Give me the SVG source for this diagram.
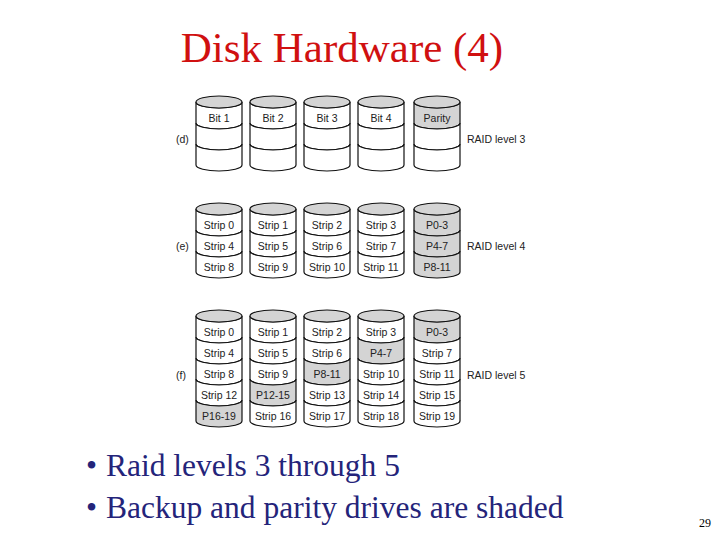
<svg xmlns="http://www.w3.org/2000/svg" xmlns:xlink="http://www.w3.org/1999/xlink" width="720" height="540" viewBox="0 0 720 540">
<style>
.b{fill:#fff;stroke:#111;stroke-width:1.2}
.s{fill:#d4d4d4;stroke:#111;stroke-width:1.2}
.t{font-family:"Liberation Sans",Arial,sans-serif;font-size:10.5px;fill:#222;text-anchor:middle}
.l{font-family:"Liberation Sans",Arial,sans-serif;font-size:10.5px;fill:#222}
.h{font-family:"Liberation Serif","Times New Roman",serif;fill:#24247a;font-size:31.5px}
</style>
<defs>
<path id="band" d="M-23,0 A23,6 0 0 0 23,0 V21 A23,6 0 0 1 -23,21 Z"/>
<ellipse id="top" cx="0" cy="0" rx="23" ry="6"/>
</defs>
<rect width="720" height="540" fill="#fff"/>
<text x="342" y="62" text-anchor="middle" font-family="Liberation Serif,'Times New Roman',serif" font-size="43" fill="#d01010">Disk Hardware (4)</text>

<g id="raid3">
<text class="l" x="176" y="143">(d)</text>
<text class="l" x="467" y="143">RAID level 3</text>
<g transform="translate(219,102)"><use href="#band" class="b" y="0"/><use href="#band" class="b" y="21"/><use href="#band" class="b" y="42"/><use href="#top" class="s"/><text class="t" y="20">Bit 1</text></g>
<g transform="translate(273,102)"><use href="#band" class="b" y="0"/><use href="#band" class="b" y="21"/><use href="#band" class="b" y="42"/><use href="#top" class="s"/><text class="t" y="20">Bit 2</text></g>
<g transform="translate(327,102)"><use href="#band" class="b" y="0"/><use href="#band" class="b" y="21"/><use href="#band" class="b" y="42"/><use href="#top" class="s"/><text class="t" y="20">Bit 3</text></g>
<g transform="translate(381,102)"><use href="#band" class="b" y="0"/><use href="#band" class="b" y="21"/><use href="#band" class="b" y="42"/><use href="#top" class="s"/><text class="t" y="20">Bit 4</text></g>
<g transform="translate(437,102)"><use href="#band" class="s" y="0"/><use href="#band" class="b" y="21"/><use href="#band" class="b" y="42"/><use href="#top" class="s"/><text class="t" y="20">Parity</text></g>
</g>

<g id="raid4">
<text class="l" x="176" y="250">(e)</text>
<text class="l" x="467" y="250">RAID level 4</text>
<g transform="translate(219,209)"><use href="#band" class="b" y="0"/><use href="#band" class="b" y="21"/><use href="#band" class="b" y="42"/><use href="#top" class="s"/><text class="t" y="20">Strip 0</text><text class="t" y="41">Strip 4</text><text class="t" y="62">Strip 8</text></g>
<g transform="translate(273,209)"><use href="#band" class="b" y="0"/><use href="#band" class="b" y="21"/><use href="#band" class="b" y="42"/><use href="#top" class="s"/><text class="t" y="20">Strip 1</text><text class="t" y="41">Strip 5</text><text class="t" y="62">Strip 9</text></g>
<g transform="translate(327,209)"><use href="#band" class="b" y="0"/><use href="#band" class="b" y="21"/><use href="#band" class="b" y="42"/><use href="#top" class="s"/><text class="t" y="20">Strip 2</text><text class="t" y="41">Strip 6</text><text class="t" y="62">Strip 10</text></g>
<g transform="translate(381,209)"><use href="#band" class="b" y="0"/><use href="#band" class="b" y="21"/><use href="#band" class="b" y="42"/><use href="#top" class="s"/><text class="t" y="20">Strip 3</text><text class="t" y="41">Strip 7</text><text class="t" y="62">Strip 11</text></g>
<g transform="translate(437,209)"><use href="#band" class="s" y="0"/><use href="#band" class="s" y="21"/><use href="#band" class="s" y="42"/><use href="#top" class="s"/><text class="t" y="20">P0-3</text><text class="t" y="41">P4-7</text><text class="t" y="62">P8-11</text></g>
</g>

<g id="raid5">
<text class="l" x="176" y="379">(f)</text>
<text class="l" x="467" y="379">RAID level 5</text>
<g transform="translate(219,316)"><use href="#band" class="b" y="0"/><use href="#band" class="b" y="21"/><use href="#band" class="b" y="42"/><use href="#band" class="b" y="63"/><use href="#band" class="s" y="84"/><use href="#top" class="s"/><text class="t" y="20">Strip 0</text><text class="t" y="41">Strip 4</text><text class="t" y="62">Strip 8</text><text class="t" y="83">Strip 12</text><text class="t" y="104">P16-19</text></g>
<g transform="translate(273,316)"><use href="#band" class="b" y="0"/><use href="#band" class="b" y="21"/><use href="#band" class="b" y="42"/><use href="#band" class="s" y="63"/><use href="#band" class="b" y="84"/><use href="#top" class="s"/><text class="t" y="20">Strip 1</text><text class="t" y="41">Strip 5</text><text class="t" y="62">Strip 9</text><text class="t" y="83">P12-15</text><text class="t" y="104">Strip 16</text></g>
<g transform="translate(327,316)"><use href="#band" class="b" y="0"/><use href="#band" class="b" y="21"/><use href="#band" class="s" y="42"/><use href="#band" class="b" y="63"/><use href="#band" class="b" y="84"/><use href="#top" class="s"/><text class="t" y="20">Strip 2</text><text class="t" y="41">Strip 6</text><text class="t" y="62">P8-11</text><text class="t" y="83">Strip 13</text><text class="t" y="104">Strip 17</text></g>
<g transform="translate(381,316)"><use href="#band" class="b" y="0"/><use href="#band" class="s" y="21"/><use href="#band" class="b" y="42"/><use href="#band" class="b" y="63"/><use href="#band" class="b" y="84"/><use href="#top" class="s"/><text class="t" y="20">Strip 3</text><text class="t" y="41">P4-7</text><text class="t" y="62">Strip 10</text><text class="t" y="83">Strip 14</text><text class="t" y="104">Strip 18</text></g>
<g transform="translate(437,316)"><use href="#band" class="s" y="0"/><use href="#band" class="b" y="21"/><use href="#band" class="b" y="42"/><use href="#band" class="b" y="63"/><use href="#band" class="b" y="84"/><use href="#top" class="s"/><text class="t" y="20">P0-3</text><text class="t" y="41">Strip 7</text><text class="t" y="62">Strip 11</text><text class="t" y="83">Strip 15</text><text class="t" y="104">Strip 19</text></g>
</g>

<text class="h" x="86" y="476">•</text><text class="h" x="106" y="476">Raid levels 3 through 5</text>
<text class="h" x="86" y="518">•</text><text class="h" x="106" y="518">Backup and parity drives are shaded</text>
<text x="705" y="527" text-anchor="middle" font-family="Liberation Serif,serif" font-size="12" fill="#000">29</text>
</svg>
